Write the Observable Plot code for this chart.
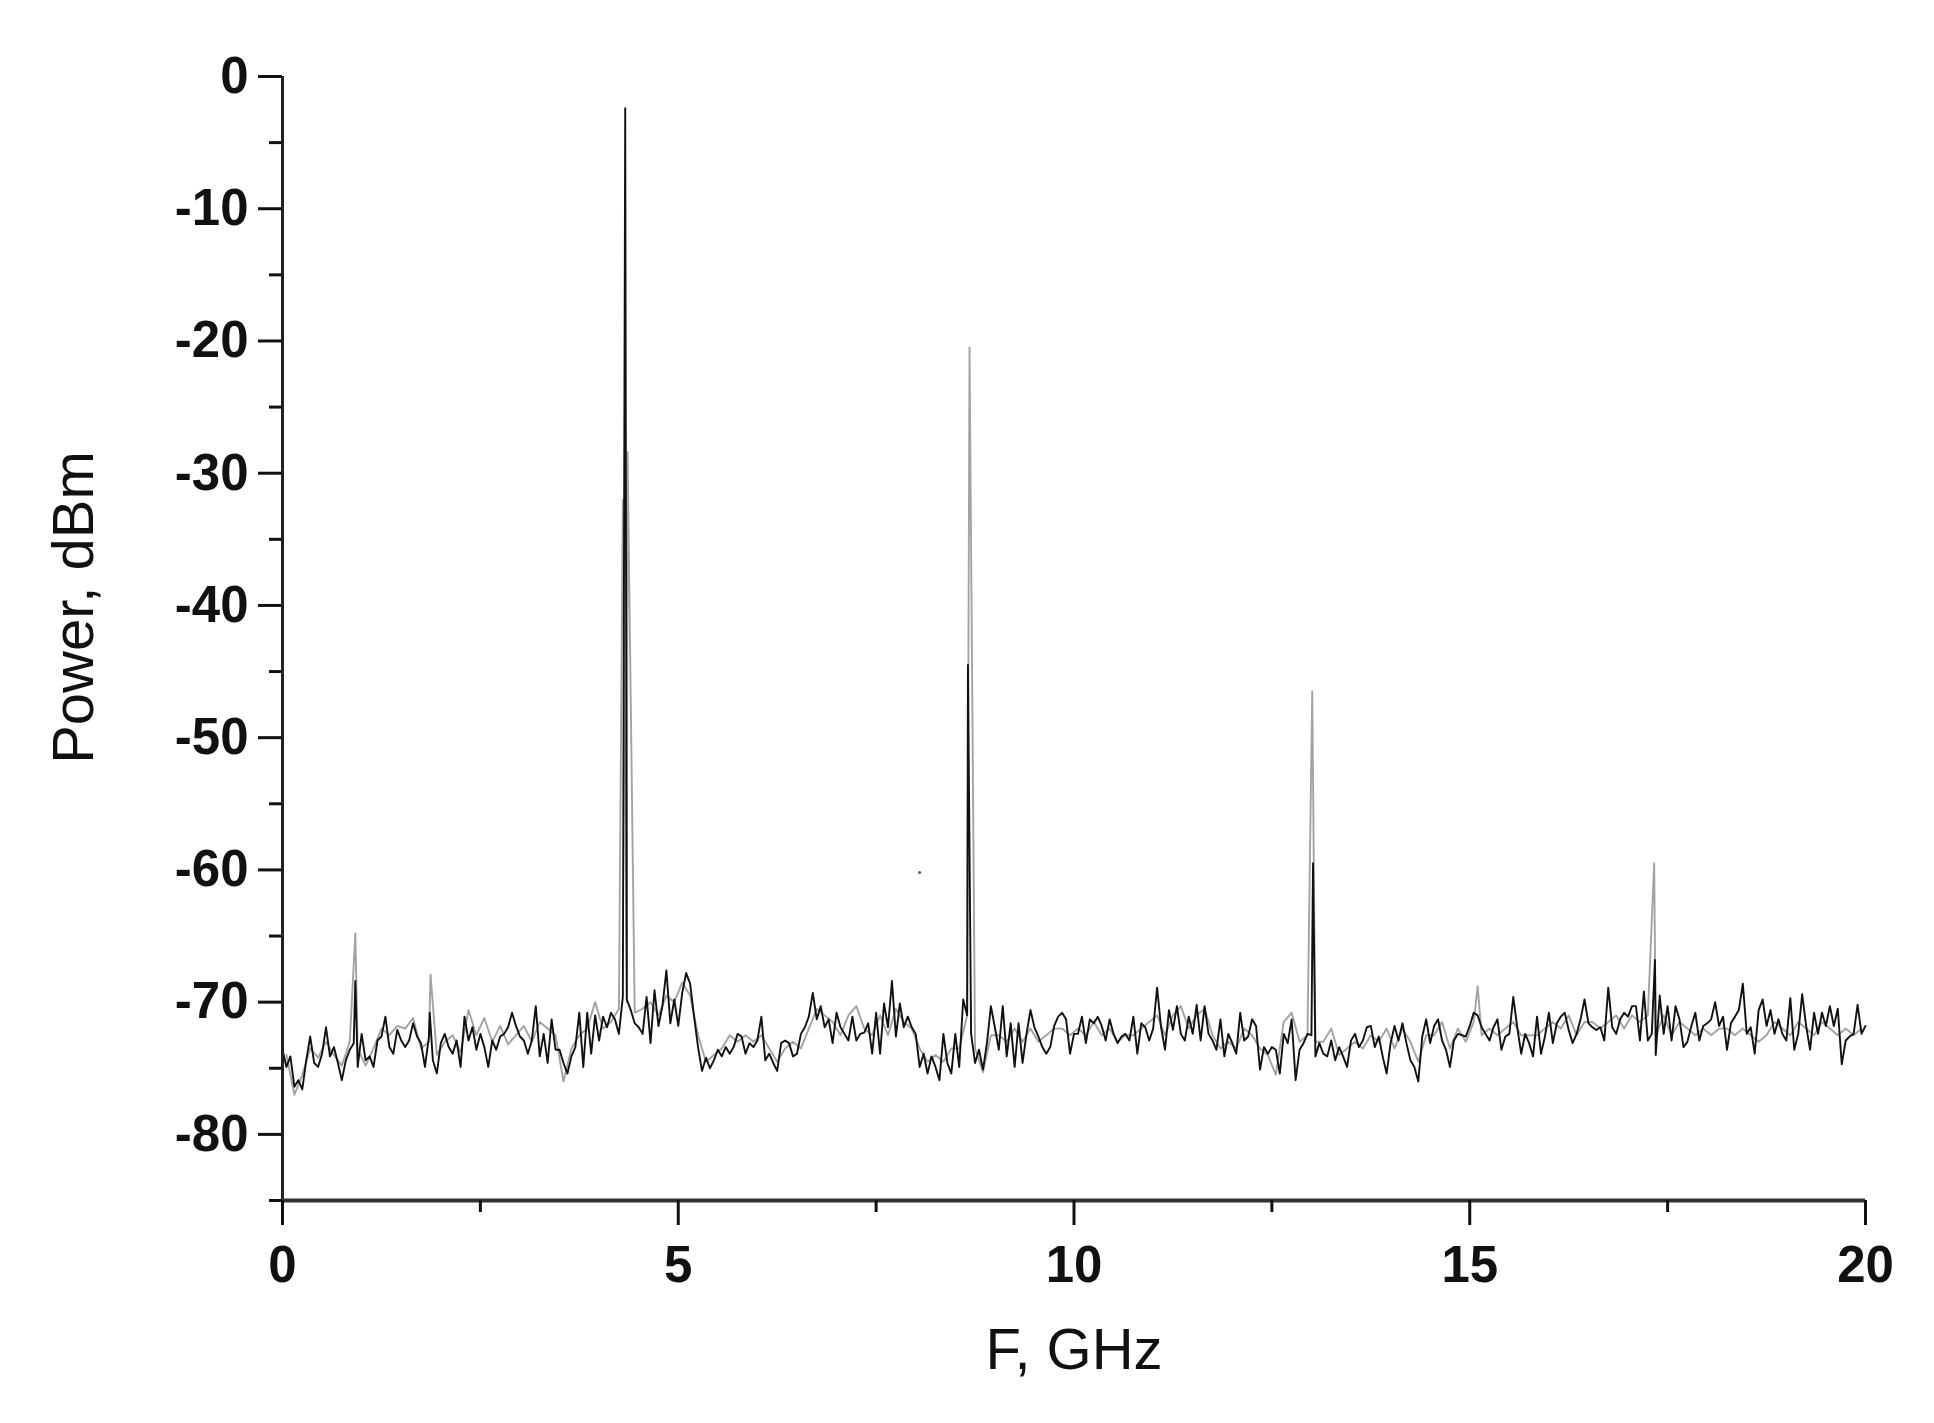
<!DOCTYPE html>
<html><head><meta charset="utf-8">
<script src="https://cdn.jsdelivr.net/npm/d3@7"></script>
<script src="https://cdn.jsdelivr.net/npm/@observablehq/plot@0.6"></script>
<style>html,body{margin:0;padding:0;background:#fff;} svg{display:block}</style>
</head><body><div id="chart"></div>
<script>
// Black trace, sampled every 0.05 GHz from 0 to 20 GHz (dBm)
const blackStep = 0.05;
const blackPower = [
-73.6,-74.9,-74.1,-76.4,-75.9,-76.6,-74.4,-72.6,-74.6,-74.9,-73.9,-71.9,-74.1,-73.4,-74.6,-75.9,-74.4,-73.6,-73.1,-74.9,
-72.4,-74.4,-74.1,-74.9,-72.9,-72.6,-71.1,-73.4,-73.9,-72.1,-72.9,-73.4,-72.9,-71.6,-72.6,-73.1,-74.9,-72.6,-74.4,-75.4,
-73.1,-72.4,-73.4,-73.9,-72.9,-74.9,-71.1,-72.9,-71.9,-73.6,-72.4,-73.4,-74.9,-72.9,-73.6,-72.6,-72.4,-71.9,-70.8,-71.8,
-72.6,-72.9,-73.9,-72.9,-70.3,-74.1,-72.4,-74.6,-71.3,-73.6,-73.6,-74.6,-75.4,-74.1,-73.4,-70.8,-74.9,-70.8,-73.9,-71.0,
-72.9,-71.1,-71.9,-70.8,-71.3,-72.4,-69.6,-69.8,-70.6,-71.6,-71.9,-72.4,-69.6,-73.1,-69.1,-71.8,-70.3,-67.6,-71.6,-69.8,
-71.8,-69.3,-67.8,-68.6,-71.1,-73.4,-75.2,-74.2,-75.0,-74.4,-73.6,-74.1,-73.4,-73.9,-73.4,-72.4,-72.6,-73.9,-73.1,-73.4,
-72.9,-71.1,-74.4,-73.9,-74.6,-75.2,-73.1,-72.9,-73.1,-74.1,-73.9,-72.4,-71.9,-71.1,-69.3,-71.3,-70.3,-71.9,-71.3,-73.1,
-70.8,-71.9,-72.4,-72.9,-71.1,-72.9,-72.4,-72.3,-71.6,-73.9,-70.8,-73.9,-70.1,-71.9,-68.4,-72.6,-70.1,-71.9,-71.1,-71.9,
-72.4,-74.9,-73.9,-75.4,-74.1,-74.9,-75.9,-72.4,-74.6,-75.4,-72.4,-74.9,-69.8,-71.0,-72.4,-74.6,-73.6,-75.1,-73.1,-70.3,
-71.9,-73.6,-70.3,-74.1,-71.6,-74.9,-71.6,-74.6,-72.4,-70.6,-71.9,-72.6,-73.4,-73.9,-73.4,-71.8,-71.1,-70.8,-71.3,-73.9,
-72.4,-72.4,-71.1,-73.1,-71.3,-71.6,-71.1,-71.8,-72.9,-71.3,-72.4,-73.1,-72.6,-72.4,-72.9,-71.1,-73.9,-71.6,-71.9,-72.9,
-72.0,-68.9,-71.9,-73.6,-70.6,-72.1,-70.3,-72.4,-72.9,-71.1,-72.4,-70.2,-72.9,-70.3,-72.4,-72.9,-73.6,-71.3,-74.1,-72.4,
-73.1,-73.9,-70.8,-72.9,-72.6,-71.3,-71.8,-75.1,-73.4,-73.9,-73.4,-73.6,-75.4,-72.4,-73.1,-71.3,-75.9,-73.6,-73.1,-72.4,
-72.5,-74.1,-73.1,-73.9,-74.1,-72.9,-74.4,-73.4,-74.1,-74.9,-72.9,-72.4,-73.4,-72.9,-71.9,-71.8,-73.4,-72.6,-74.1,-75.4,
-73.1,-71.8,-72.9,-71.6,-73.1,-74.4,-74.9,-76.0,-72.6,-71.3,-73.1,-71.8,-71.3,-72.9,-73.6,-74.9,-72.9,-72.4,-72.5,-72.6,
-71.8,-70.8,-71.0,-71.9,-72.4,-72.9,-71.9,-71.3,-73.6,-72.6,-72.4,-69.6,-71.9,-73.9,-72.4,-73.1,-74.1,-71.1,-73.9,-72.6,
-70.8,-73.1,-71.6,-71.1,-70.8,-72.1,-73.1,-72.4,-71.3,-69.8,-71.6,-71.9,-72.1,-71.9,-72.9,-68.9,-71.9,-72.4,-71.3,-70.8,
-71.1,-70.3,-70.3,-72.9,-69.2,-72.9,-72.4,-74.0,-69.5,-72.4,-70.3,-72.9,-70.3,-71.3,-73.4,-73.0,-71.8,-70.8,-72.9,-71.8,
-71.6,-71.3,-70.0,-71.8,-71.1,-73.6,-71.6,-71.1,-70.6,-68.6,-72.4,-71.9,-73.9,-70.6,-69.8,-71.8,-70.6,-72.4,-71.3,-72.4,
-72.9,-69.7,-73.6,-72.4,-69.4,-71.8,-73.6,-70.8,-72.4,-70.8,-71.8,-70.3,-71.8,-70.5,-74.7,-72.9,-72.6,-72.4,-70.2,-72.4,
-71.8
];

// Gray trace, sampled every 0.1 GHz from 0.05 to 19.95 GHz (dBm)
const grayStart = 0.05;
const grayStep = 0.1;
const grayPower = [
-74.0,-77.0,-75.5,-73.5,-74.2,-73.0,-74.0,-74.8,-73.0,-73.5,
-74.8,-73.5,-72.0,-72.5,-71.8,-72.0,-71.2,-73.5,-73.0,-74.0,
-73.0,-72.5,-73.8,-70.6,-72.5,-71.2,-73.0,-71.8,-73.2,-72.5,
-71.8,-73.0,-71.5,-72.0,-72.5,-76.0,-73.5,-72.5,-72.0,-70.0,
-72.0,-71.5,-70.5,-70.0,-70.8,-70.5,-70.0,-71.0,-69.5,-70.0,
-68.5,-69.5,-72.5,-74.5,-74.0,-73.5,-72.5,-73.0,-72.5,-73.0,
-72.5,-73.5,-74.5,-73.5,-73.0,-73.5,-72.0,-70.5,-71.0,-71.5,
-72.5,-71.0,-70.3,-72.0,-72.5,-71.0,-72.5,-70.5,-71.5,-72.0,
-73.5,-74.5,-74.0,-74.5,-73.5,-73.5,-71.0,-73.5,-75.3,-72.5,
-72.5,-73.0,-72.0,-73.0,-72.0,-73.0,-72.5,-72.0,-72.0,-72.5,
-72.0,-72.5,-71.5,-72.5,-72.0,-73.0,-72.5,-72.5,-72.0,-71.5,
-71.0,-72.5,-71.0,-70.3,-72.0,-71.0,-70.5,-72.5,-73.5,-73.0,
-73.5,-72.0,-72.5,-73.5,-74.0,-75.5,-71.5,-70.8,-73.0,-72.5,
-73.0,-73.0,-72.0,-74.0,-73.5,-73.0,-73.5,-72.5,-73.0,-72.0,
-73.5,-72.0,-73.0,-74.5,-72.5,-72.5,-71.5,-73.5,-72.0,-73.0,
-71.5,-72.5,-72.0,-72.5,-72.0,-71.5,-72.5,-72.5,-72.5,-72.0,
-71.5,-72.0,-71.0,-72.5,-71.5,-71.5,-72.0,-71.5,-71.0,-72.0,
-71.0,-71.5,-71.0,-72.5,-71.0,-72.5,-71.5,-72.0,-72.5,-72.0,
-72.5,-72.0,-72.0,-72.5,-72.0,-72.5,-73.0,-72.5,-71.5,-72.0,
-72.5,-71.5,-72.0,-72.5,-71.5,-72.0,-72.5,-72.0,-72.5,-72.0
];

// Spectral lines (harmonics) of each trace
const blackSpikeFreq  = [0.92, 1.86, 4.33, 8.66, 13.02, 17.34];
const blackSpikePower = [-68.4, -70.8, -2.4, -44.5, -59.5, -66.8];
const graySpikeFreq   = [0.92, 1.87, 4.30, 4.36, 8.68, 13.01, 15.10, 17.33];
const graySpikePower  = [-64.8, -67.9, -32.0, -28.4, -20.5, -46.5, -68.8, -59.5];

// stray point
const strayFreq = [8.05];
const strayPower = [-60.2];

// Axis ticks
const yMajor = [0, -10, -20, -30, -40, -50, -60, -70, -80];
const yMinor = [-5, -15, -25, -35, -45, -55, -65, -75, -85];
const xMajor = [0, 5, 10, 15, 20];
const xMinor = [2.5, 7.5, 12.5, 17.5];

const black = blackPower.map((p, i) => ({f: +(i * blackStep).toFixed(3), p}))
  .concat(blackSpikeFreq.map((f, i) => ({f, p: blackSpikePower[i]})))
  .sort((a, b) => a.f - b.f);
const gray = grayPower.map((p, i) => ({f: +(grayStart + i * grayStep).toFixed(3), p}))
  .concat(graySpikeFreq.map((f, i) => ({f, p: graySpikePower[i]})))
  .sort((a, b) => a.f - b.f);
const stray = strayFreq.map((f, i) => ({f, p: strayPower[i]}));

const chart = Plot.plot({
  width: 1934,
  height: 1423,
  marginLeft: 282,
  marginRight: 69,
  marginTop: 76,
  marginBottom: 223,
  x: {domain: [0, 20]},
  y: {domain: [-85, 0]},
  style: {fontFamily: "'Liberation Sans', Arial, sans-serif", color: "#111", background: "#fff"},
  marks: [
    Plot.line(gray, {x: "f", y: "p", stroke: "#a3a3a3", strokeWidth: 1.9}),
    Plot.line(black, {x: "f", y: "p", stroke: "#111", strokeWidth: 1.9}),
    Plot.dot(stray, {x: "f", y: "p", r: 1.5, fill: "#555", stroke: null}),
    Plot.ruleX([0], {y1: -85, y2: 0, stroke: "#222", strokeWidth: 3}),
    Plot.ruleY([-85], {x1: 0, x2: 20, stroke: "#333", strokeWidth: 4}),
    Plot.axisY(yMajor, {tickSize: 24, tickPadding: 10, fontSize: 51, fontWeight: "bold", strokeWidth: 3, label: null, tickFormat: d => String(d)}),
    Plot.axisY(yMinor, {tickSize: 13, strokeWidth: 3, label: null, tickFormat: () => ""}),
    Plot.axisX(xMajor, {tickSize: 25, tickPadding: 20, fontSize: 51, fontWeight: "bold", strokeWidth: 3, label: null, tickFormat: d => String(d)}),
    Plot.axisX(xMinor, {tickSize: 12, strokeWidth: 3, label: null, tickFormat: () => ""}),
    Plot.text(["Power, dBm"], {frameAnchor: "left", textAnchor: "middle", rotate: -90, dx: -208, dy: -31, fontSize: 58}),
    Plot.text(["F, GHz"], {frameAnchor: "bottom", dy: 168, fontSize: 58})
  ]
});
document.getElementById("chart").appendChild(chart);
</script>
</body></html>
